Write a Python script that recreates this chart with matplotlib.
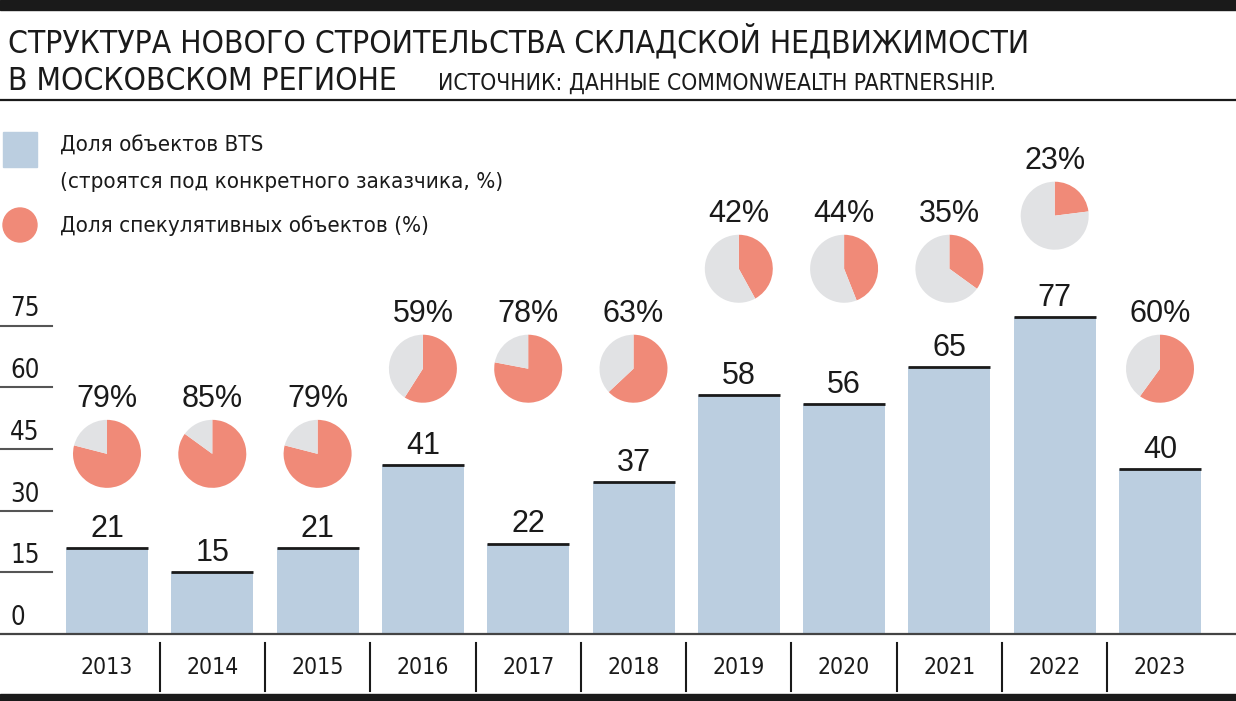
import matplotlib
matplotlib.use("Agg")
import matplotlib.pyplot as plt
from matplotlib import font_manager
from matplotlib.patches import Rectangle, Circle
from matplotlib.lines import Line2D
from matplotlib.transforms import blended_transform_factory

# ---------------- data ----------------
years = ["2013", "2014", "2015", "2016", "2017", "2018", "2019", "2020", "2021", "2022", "2023"]
bts_share = [21, 15, 21, 41, 22, 37, 58, 56, 65, 77, 40]
spec_share = [79, 85, 79, 59, 78, 63, 42, 44, 35, 23, 60]
y_ticks = [0, 15, 30, 45, 60, 75]

title1 = "СТРУКТУРА НОВОГО СТРОИТЕЛЬСТВА СКЛАДСКОЙ НЕДВИЖИМОСТИ"
title2 = "В МОСКОВСКОМ РЕГИОНЕ"
source = "ИСТОЧНИК: ДАННЫЕ COMMONWEALTH PARTNERSHIP."
legend1a = "Доля объектов BTS"
legend1b = "(строятся под конкретного заказчика, %)"
legend2 = "Доля спекулятивных объектов (%)"

# ---------------- style / layout ----------------
names = {f.name for f in font_manager.fontManager.ttflist}
NARROW = "Liberation Sans Narrow" if "Liberation Sans Narrow" in names else "DejaVu Sans"
NARROW_STRETCH = "normal" if NARROW == "Liberation Sans Narrow" else "condensed"
REG = "Liberation Sans"

BAR_C = "#BBCEE0"
ORANGE = "#F08A78"
GRAY = "#E1E2E4"
INK = "#1a1a1a"

W, H = 1236, 701
PX = 4.113             # pixels per value unit
BASE = 634             # pixel row of value 0
PITCH = 105.3          # pixels per category
FIRST = 107            # pixel centre of first category
R = 34                 # pie radius, px
pie_level = [43.8, 43.8, 43.8, 64.5, 64.5, 64.5, 88.8, 88.8, 88.8, 101.7, 64.5]

fig = plt.figure(figsize=(W / 100, H / 100), dpi=100)
top_px = 110
ax = fig.add_axes([0, (H - BASE) / H, 1, (BASE - top_px) / H])
ax.set_xlim(-FIRST / PITCH, (W - FIRST) / PITCH)
ax.set_ylim(0, (BASE - top_px) / PX)
ax.axis("off")

def fy(py):
    return 1 - py / H

nkw = dict(family=NARROW, stretch=NARROW_STRETCH, color=INK)

# bands and rules
fig.patches.append(Rectangle((0, fy(10)), 1, 10 / H, transform=fig.transFigure,
                             color=INK, zorder=5))
fig.patches.append(Rectangle((0, 0), 1, 7 / H, transform=fig.transFigure,
                             color=INK, zorder=5))
fig.lines.append(Line2D([0, 1], [fy(100), fy(100)], transform=fig.transFigure,
                        color=INK, lw=1.6))

# titles
fig.text(8 / W, fy(42), title1, fontsize=22.8, va="center", ha="left", **nkw)
fig.text(8 / W, fy(81), title2, fontsize=22.8, va="center", ha="left", **nkw)
fig.text(438 / W, fy(83), source, fontsize=16.4, va="center", ha="left", **nkw)

# legend
fig.patches.append(Rectangle((3 / W, fy(167)), 34 / W, 35 / H, transform=fig.transFigure,
                             color=BAR_C))
fig.text(60 / W, fy(146), legend1a, fontsize=16, va="center", ha="left", **nkw)
fig.text(60 / W, fy(182), legend1b, fontsize=16, va="center", ha="left", **nkw)
fig.patches.append(Circle((20, H - 225), 17, transform=None, color=ORANGE))
fig.text(60 / W, fy(226), legend2, fontsize=16, va="center", ha="left", **nkw)

# y grid stubs and labels
bt = blended_transform_factory(ax.transAxes, ax.transData)
for t in y_ticks[1:]:
    ax.plot([0, 52 / W], [t, t], transform=bt, color="#555555", lw=1.5, clip_on=False)
for t in y_ticks:
    ax.text(10 / W, t + 2.2, str(t), transform=bt, fontsize=18.5,
            va="baseline", ha="left", **nkw)

# bars
xs = list(range(len(years)))
bw = 82 / PITCH
ax.bar(xs, bts_share, width=bw, color=BAR_C, zorder=2)
for x, v in zip(xs, bts_share):
    ax.plot([x - bw / 2, x + bw / 2], [v, v], color=INK, lw=2, zorder=3,
            solid_capstyle="butt")
    ax.text(x, v + 2.7, str(v), family=REG, fontsize=22, color=INK,
            ha="center", va="baseline")

# baseline
ax.axhline(0, color="#444444", lw=1.6, zorder=4, clip_on=False)

# separators and x labels
for i in range(len(years) - 1):
    ax.plot([i + 0.5, i + 0.5], [-(643 - BASE) / PX, -(691 - BASE) / PX],
            color=INK, lw=1.5, clip_on=False)
for x, yr in zip(xs, years):
    ax.text(x, -(668 - BASE) / PX, yr, fontsize=16.5, ha="center", va="center", **nkw)

# pies
pw = 2 * R / PITCH
ph = 2 * R / PX
for x, s, lvl in zip(xs, spec_share, pie_level):
    ia = ax.inset_axes([x - pw / 2, lvl - ph / 2, pw, ph], transform=ax.transData)
    ia.pie([s, 100 - s], colors=[ORANGE, GRAY], startangle=90, counterclock=False,
           radius=1)
    ia.set_xlim(-1, 1)
    ia.set_ylim(-1, 1)
    ia.set_aspect("equal")
    ia.axis("off")
    ax.text(x, lvl + 11.4, f"{s}%", family=REG, fontsize=22, color=INK,
            ha="center", va="baseline")

fig.savefig("out.png", dpi=100)
